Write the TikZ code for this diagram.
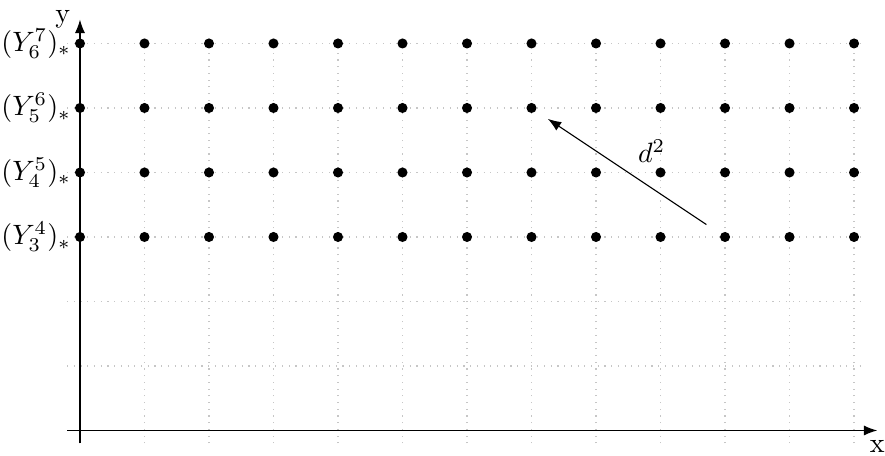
\documentclass[tikz,border=0pt]{standalone}
\usetikzlibrary{arrows.meta,positioning}
\begin{document}
\begin{tikzpicture}[x=0.81cm,y=0.81cm,
	dot/.style={circle, fill=black, inner sep=0pt, minimum size=3.6pt},
	lab/.style={inner sep=1pt},
	axis/.style={-{Latex}},
	arr/.style={-{Latex}, shorten <=6pt, shorten >=5pt}
	]
	\useasboundingbox (-1.24,-0.38) rectangle (12.48,6.674);
	\draw[gray!45, dotted, step=1] (-0.2,-0.2) grid (12.1,6.15);
	% axes
	\coordinate (x0) at (-0.2,0);
	\coordinate (x1) at (12.36,0);
	\coordinate (y0) at (0,-0.2);
	\coordinate (y1) at (0,6.37);
	\draw[axis] (x0) -- (x1);
	\draw[axis] (y0) -- (y1);
	\node[below=0pt of x1] (xlab) {x};
	\node[left=0pt of y1] (ylab) {y};
	% lattice points
	\foreach \i in {0,...,12}
		\foreach \j in {3,...,6}
			\node[dot] (d-\i-\j) at (\i,\j) {};
	\node[lab, left=0pt of d-0-3] (l3) {$(Y_3^4)_*$};
	\node[lab, left=0pt of d-0-4] (l4) {$(Y_4^5)_*$};
	\node[lab, left=0pt of d-0-5] (l5) {$(Y_5^6)_*$};
	\node[lab, left=0pt of d-0-6] (l6) {$(Y_6^7)_*$};
	\draw[arr] (d-10-3) -- node[above right] (dlab) {$d^2$} (d-7-5);
\end{tikzpicture}
\end{document}
